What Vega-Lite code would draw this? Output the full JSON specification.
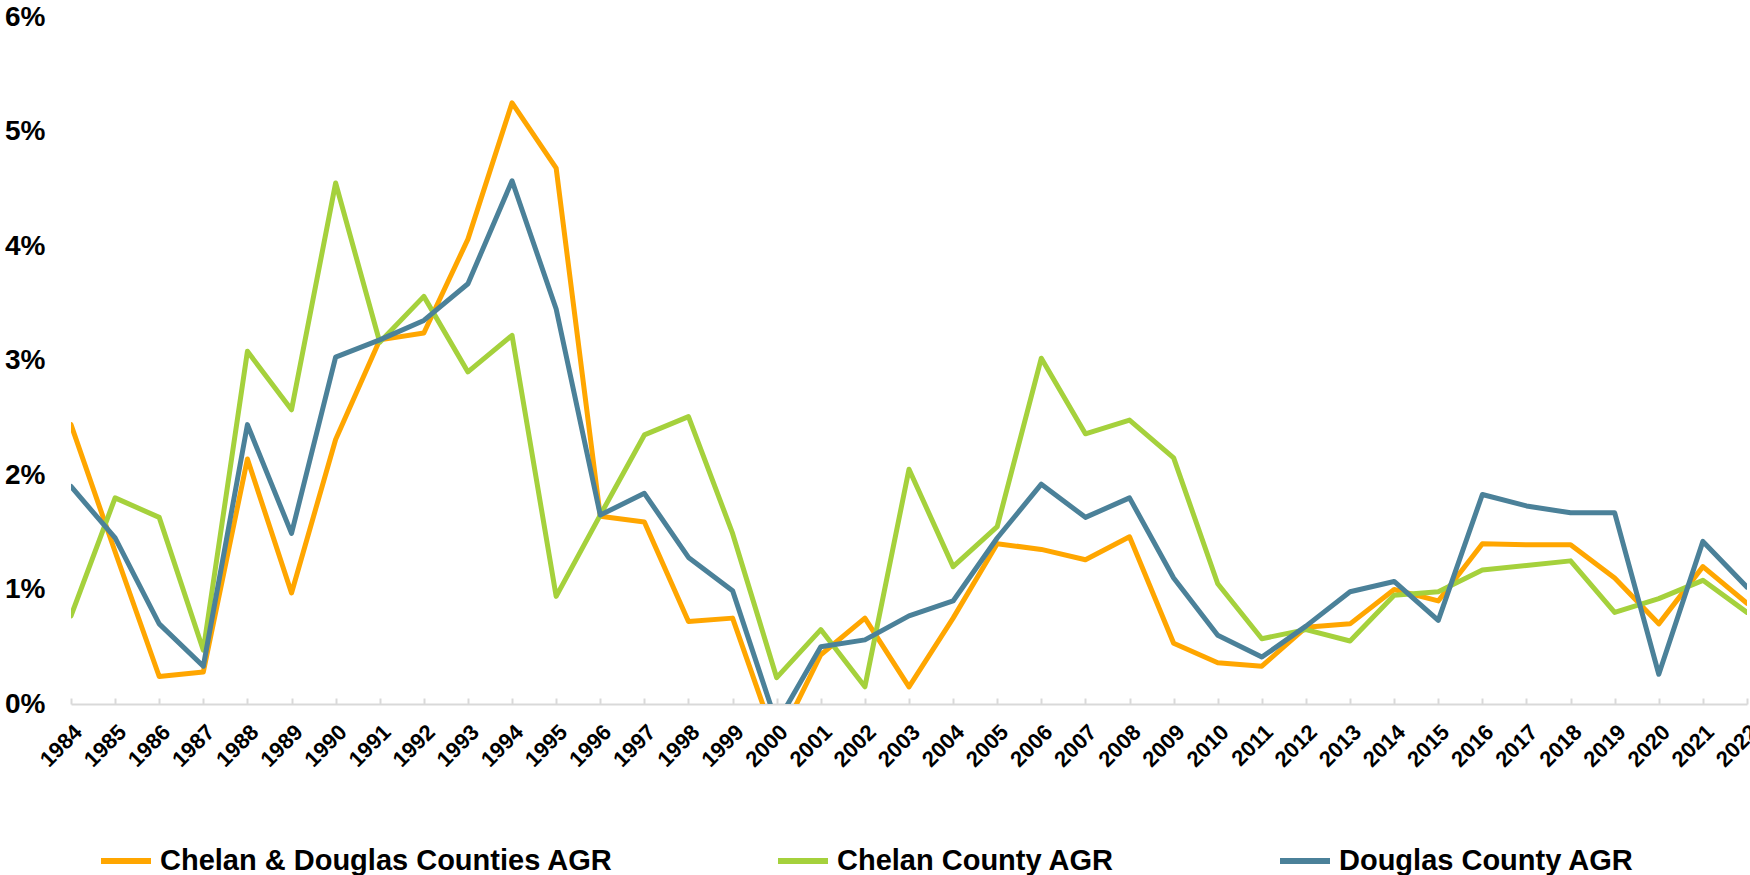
{
  "$schema": "https://vega.github.io/schema/vega-lite/v6.json",
  "width": 1676,
  "height": 687,
  "autosize": {"type": "none"},
  "padding": {"left": 71, "top": 17, "right": 3, "bottom": 171},
  "background": "white",
  "config": {
    "view": {"stroke": null},
    "font": "Liberation Sans",
    "axis": {"labelFont": "Liberation Sans", "labelFontWeight": "bold", "labelColor": "#000000", "title": null, "grid": false},
    "legend": {"labelFont": "Liberation Sans", "labelFontWeight": "bold", "labelColor": "#000000"}
  },
  "data": {
    "values": [
      {"year": "1984", "series": "Chelan & Douglas Counties AGR", "value": 2.44},
      {"year": "1985", "series": "Chelan & Douglas Counties AGR", "value": 1.33},
      {"year": "1986", "series": "Chelan & Douglas Counties AGR", "value": 0.24},
      {"year": "1987", "series": "Chelan & Douglas Counties AGR", "value": 0.28},
      {"year": "1988", "series": "Chelan & Douglas Counties AGR", "value": 2.14},
      {"year": "1989", "series": "Chelan & Douglas Counties AGR", "value": 0.97},
      {"year": "1990", "series": "Chelan & Douglas Counties AGR", "value": 2.31},
      {"year": "1991", "series": "Chelan & Douglas Counties AGR", "value": 3.18},
      {"year": "1992", "series": "Chelan & Douglas Counties AGR", "value": 3.24},
      {"year": "1993", "series": "Chelan & Douglas Counties AGR", "value": 4.06},
      {"year": "1994", "series": "Chelan & Douglas Counties AGR", "value": 5.25},
      {"year": "1995", "series": "Chelan & Douglas Counties AGR", "value": 4.68},
      {"year": "1996", "series": "Chelan & Douglas Counties AGR", "value": 1.64},
      {"year": "1997", "series": "Chelan & Douglas Counties AGR", "value": 1.59},
      {"year": "1998", "series": "Chelan & Douglas Counties AGR", "value": 0.72},
      {"year": "1999", "series": "Chelan & Douglas Counties AGR", "value": 0.75},
      {"year": "2000", "series": "Chelan & Douglas Counties AGR", "value": -0.35},
      {"year": "2001", "series": "Chelan & Douglas Counties AGR", "value": 0.43},
      {"year": "2002", "series": "Chelan & Douglas Counties AGR", "value": 0.75},
      {"year": "2003", "series": "Chelan & Douglas Counties AGR", "value": 0.15},
      {"year": "2004", "series": "Chelan & Douglas Counties AGR", "value": 0.75},
      {"year": "2005", "series": "Chelan & Douglas Counties AGR", "value": 1.4},
      {"year": "2006", "series": "Chelan & Douglas Counties AGR", "value": 1.35},
      {"year": "2007", "series": "Chelan & Douglas Counties AGR", "value": 1.26},
      {"year": "2008", "series": "Chelan & Douglas Counties AGR", "value": 1.46},
      {"year": "2009", "series": "Chelan & Douglas Counties AGR", "value": 0.53},
      {"year": "2010", "series": "Chelan & Douglas Counties AGR", "value": 0.36},
      {"year": "2011", "series": "Chelan & Douglas Counties AGR", "value": 0.33},
      {"year": "2012", "series": "Chelan & Douglas Counties AGR", "value": 0.67},
      {"year": "2013", "series": "Chelan & Douglas Counties AGR", "value": 0.7},
      {"year": "2014", "series": "Chelan & Douglas Counties AGR", "value": 1.0},
      {"year": "2015", "series": "Chelan & Douglas Counties AGR", "value": 0.9},
      {"year": "2016", "series": "Chelan & Douglas Counties AGR", "value": 1.4},
      {"year": "2017", "series": "Chelan & Douglas Counties AGR", "value": 1.39},
      {"year": "2018", "series": "Chelan & Douglas Counties AGR", "value": 1.39},
      {"year": "2019", "series": "Chelan & Douglas Counties AGR", "value": 1.1},
      {"year": "2020", "series": "Chelan & Douglas Counties AGR", "value": 0.7},
      {"year": "2021", "series": "Chelan & Douglas Counties AGR", "value": 1.2},
      {"year": "2022", "series": "Chelan & Douglas Counties AGR", "value": 0.88},
      {"year": "1984", "series": "Chelan County AGR", "value": 0.77},
      {"year": "1985", "series": "Chelan County AGR", "value": 1.8},
      {"year": "1986", "series": "Chelan County AGR", "value": 1.63},
      {"year": "1987", "series": "Chelan County AGR", "value": 0.47},
      {"year": "1988", "series": "Chelan County AGR", "value": 3.08},
      {"year": "1989", "series": "Chelan County AGR", "value": 2.57},
      {"year": "1990", "series": "Chelan County AGR", "value": 4.55},
      {"year": "1991", "series": "Chelan County AGR", "value": 3.16},
      {"year": "1992", "series": "Chelan County AGR", "value": 3.56},
      {"year": "1993", "series": "Chelan County AGR", "value": 2.9},
      {"year": "1994", "series": "Chelan County AGR", "value": 3.22},
      {"year": "1995", "series": "Chelan County AGR", "value": 0.94},
      {"year": "1996", "series": "Chelan County AGR", "value": 1.65},
      {"year": "1997", "series": "Chelan County AGR", "value": 2.35},
      {"year": "1998", "series": "Chelan County AGR", "value": 2.51},
      {"year": "1999", "series": "Chelan County AGR", "value": 1.49},
      {"year": "2000", "series": "Chelan County AGR", "value": 0.23},
      {"year": "2001", "series": "Chelan County AGR", "value": 0.65},
      {"year": "2002", "series": "Chelan County AGR", "value": 0.15},
      {"year": "2003", "series": "Chelan County AGR", "value": 2.05},
      {"year": "2004", "series": "Chelan County AGR", "value": 1.2},
      {"year": "2005", "series": "Chelan County AGR", "value": 1.55},
      {"year": "2006", "series": "Chelan County AGR", "value": 3.02},
      {"year": "2007", "series": "Chelan County AGR", "value": 2.36},
      {"year": "2008", "series": "Chelan County AGR", "value": 2.48},
      {"year": "2009", "series": "Chelan County AGR", "value": 2.15},
      {"year": "2010", "series": "Chelan County AGR", "value": 1.05},
      {"year": "2011", "series": "Chelan County AGR", "value": 0.57},
      {"year": "2012", "series": "Chelan County AGR", "value": 0.65},
      {"year": "2013", "series": "Chelan County AGR", "value": 0.55},
      {"year": "2014", "series": "Chelan County AGR", "value": 0.95},
      {"year": "2015", "series": "Chelan County AGR", "value": 0.98},
      {"year": "2016", "series": "Chelan County AGR", "value": 1.17},
      {"year": "2017", "series": "Chelan County AGR", "value": 1.21},
      {"year": "2018", "series": "Chelan County AGR", "value": 1.25},
      {"year": "2019", "series": "Chelan County AGR", "value": 0.8},
      {"year": "2020", "series": "Chelan County AGR", "value": 0.92},
      {"year": "2021", "series": "Chelan County AGR", "value": 1.08},
      {"year": "2022", "series": "Chelan County AGR", "value": 0.8},
      {"year": "1984", "series": "Douglas County AGR", "value": 1.9},
      {"year": "1985", "series": "Douglas County AGR", "value": 1.45},
      {"year": "1986", "series": "Douglas County AGR", "value": 0.7},
      {"year": "1987", "series": "Douglas County AGR", "value": 0.33},
      {"year": "1988", "series": "Douglas County AGR", "value": 2.44},
      {"year": "1989", "series": "Douglas County AGR", "value": 1.49},
      {"year": "1990", "series": "Douglas County AGR", "value": 3.03},
      {"year": "1991", "series": "Douglas County AGR", "value": 3.18},
      {"year": "1992", "series": "Douglas County AGR", "value": 3.35},
      {"year": "1993", "series": "Douglas County AGR", "value": 3.67},
      {"year": "1994", "series": "Douglas County AGR", "value": 4.57},
      {"year": "1995", "series": "Douglas County AGR", "value": 3.45},
      {"year": "1996", "series": "Douglas County AGR", "value": 1.65},
      {"year": "1997", "series": "Douglas County AGR", "value": 1.84},
      {"year": "1998", "series": "Douglas County AGR", "value": 1.28},
      {"year": "1999", "series": "Douglas County AGR", "value": 0.99},
      {"year": "2000", "series": "Douglas County AGR", "value": -0.17},
      {"year": "2001", "series": "Douglas County AGR", "value": 0.5},
      {"year": "2002", "series": "Douglas County AGR", "value": 0.56},
      {"year": "2003", "series": "Douglas County AGR", "value": 0.77},
      {"year": "2004", "series": "Douglas County AGR", "value": 0.9},
      {"year": "2005", "series": "Douglas County AGR", "value": 1.45},
      {"year": "2006", "series": "Douglas County AGR", "value": 1.92},
      {"year": "2007", "series": "Douglas County AGR", "value": 1.63},
      {"year": "2008", "series": "Douglas County AGR", "value": 1.8},
      {"year": "2009", "series": "Douglas County AGR", "value": 1.1},
      {"year": "2010", "series": "Douglas County AGR", "value": 0.6},
      {"year": "2011", "series": "Douglas County AGR", "value": 0.41},
      {"year": "2012", "series": "Douglas County AGR", "value": 0.68},
      {"year": "2013", "series": "Douglas County AGR", "value": 0.98},
      {"year": "2014", "series": "Douglas County AGR", "value": 1.07},
      {"year": "2015", "series": "Douglas County AGR", "value": 0.73},
      {"year": "2016", "series": "Douglas County AGR", "value": 1.83},
      {"year": "2017", "series": "Douglas County AGR", "value": 1.73},
      {"year": "2018", "series": "Douglas County AGR", "value": 1.67},
      {"year": "2019", "series": "Douglas County AGR", "value": 1.67},
      {"year": "2020", "series": "Douglas County AGR", "value": 0.26},
      {"year": "2021", "series": "Douglas County AGR", "value": 1.42},
      {"year": "2022", "series": "Douglas County AGR", "value": 1.02}
    ]
  },
  "mark": {"type": "line", "strokeWidth": 5, "strokeCap": "round", "strokeJoin": "round", "clip": true},
  "encoding": {
    "x": {
      "field": "year",
      "type": "ordinal",
      "scale": {"type": "point", "padding": 0},
      "axis": {
        "labelAngle": -45,
        "labelFontSize": 22,
        "labelPadding": 23,
        "domainColor": "#d9d9d9",
        "domainWidth": 2,
        "tickColor": "#d9d9d9",
        "tickWidth": 2,
        "tickSize": -6
      }
    },
    "y": {
      "field": "value",
      "type": "quantitative",
      "scale": {"domain": [0, 6], "nice": false},
      "axis": {
        "values": [0, 1, 2, 3, 4, 5, 6],
        "labelExpr": "datum.value + '%'",
        "labelFontSize": 28,
        "labelPadding": 26,
        "domain": false,
        "ticks": false,
        "tickSize": 0
      }
    },
    "color": {
      "field": "series",
      "type": "nominal",
      "scale": {
        "domain": ["Chelan & Douglas Counties AGR", "Chelan County AGR", "Douglas County AGR"],
        "range": ["#FFA600", "#A5D13C", "#4B8199"]
      },
      "legend": {
        "title": null,
        "orient": "none",
        "direction": "horizontal",
        "legendX": 27,
        "legendY": 816,
        "padding": 0,
        "labelFontSize": 29,
        "labelLimit": 0,
        "labelOffset": 6,
        "symbolType": "stroke",
        "symbolSize": 2500,
        "symbolStrokeWidth": 6,
        "columnPadding": 153
      }
    }
  }
}
